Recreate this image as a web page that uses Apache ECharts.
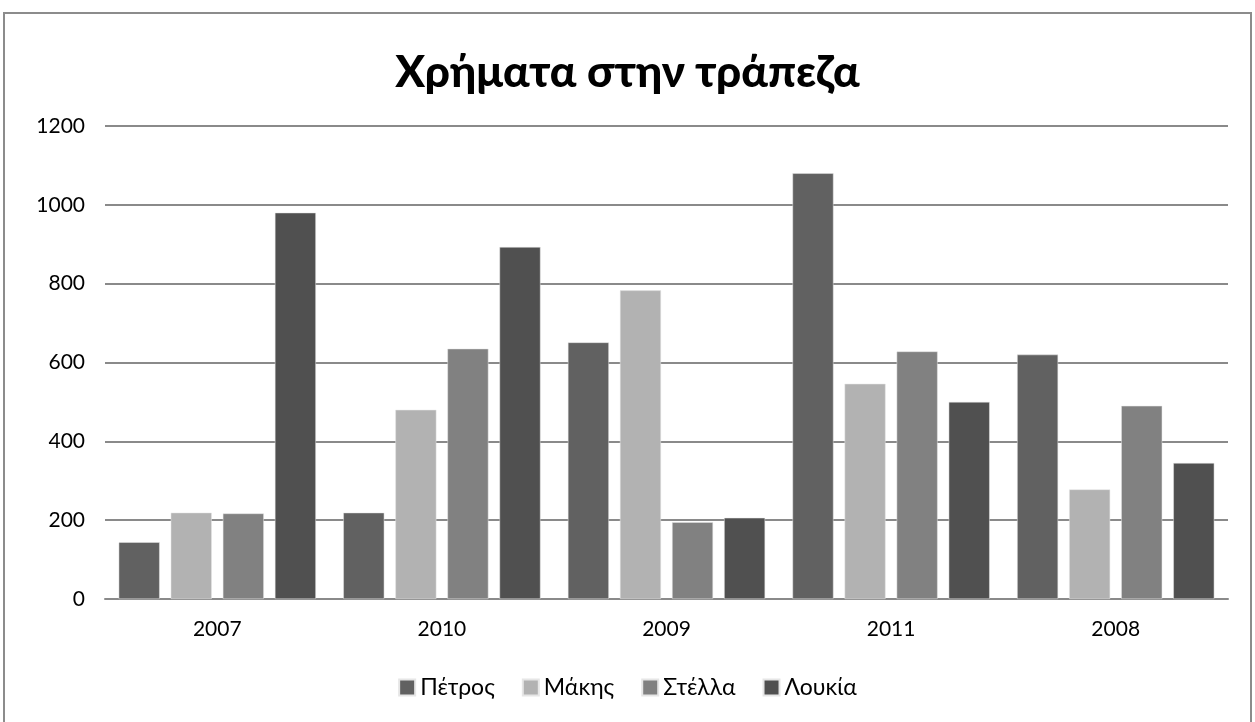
<!DOCTYPE html>
<html><head><meta charset="utf-8">
<script src="https://cdn.jsdelivr.net/npm/echarts@6/dist/echarts.min.js"></script>
<style>html,body{margin:0;padding:0;background:#fff}#c{width:1255px;height:722px}</style>
</head><body><div id="c"></div>
<script>
const categories = ['2007', '2010', '2009', '2011', '2008'];
const seriesNames = ['Πέτρος', 'Μάκης', 'Στέλλα', 'Λουκία'];
const petros = [144, 219, 651, 1080, 620];
const makis = [219, 480, 783, 546, 278];
const stella = [217, 635, 195, 628, 490];
const loukia = [980, 893, 206, 500, 345];
const yTicks = [0, 200, 400, 600, 800, 1000, 1200];
const colors = ['#616161', '#b2b2b2', '#818181', '#505050'];
const FONT = 'Lato, "Noto Sans", sans-serif';
const values = [petros, makis, stella, loukia];

const chart = echarts.init(document.getElementById('c'));
chart.setOption({
  animation: false,
  title: {
    text: 'Χρήματα στην τράπεζα', left: 'center', top: 46,
    textStyle: { fontFamily: FONT, fontSize: 44, fontWeight: 900, color: '#000' }
  },
  graphic: [{
    type: 'rect', silent: true,
    shape: { x: 4, y: 13, width: 1247, height: 720 },
    style: { fill: 'none', stroke: '#8c8c8c', lineWidth: 2 }
  }],
  legend: {
    bottom: 18, left: 'center', itemWidth: 16, itemHeight: 16, itemGap: 27,
    icon: 'rect',
    textStyle: { fontFamily: FONT, fontSize: 23, color: '#000' },
    data: seriesNames
  },
  grid: { left: 105, right: 27, top: 126, bottom: 123 },
  xAxis: {
    type: 'category', data: categories,
    axisLine: { lineStyle: { color: '#8a8a8a', width: 2 } },
    axisTick: { show: false },
    axisLabel: { fontFamily: FONT, fontSize: 21, color: '#000', margin: 20 }
  },
  yAxis: {
    type: 'value', min: yTicks[0], max: yTicks[yTicks.length - 1], interval: 200,
    axisLine: { show: false }, axisTick: { show: false },
    splitLine: { lineStyle: { color: '#8a8a8a', width: 2 } },
    axisLabel: { fontFamily: FONT, fontSize: 21, color: '#000', margin: 20,
      formatter: v => String(v) }
  },
  series: seriesNames.map((n, i) => ({
    name: n, type: 'bar', data: values[i],
    barWidth: 41, barGap: '27%',
    itemStyle: { color: colors[i], borderColor: '#e6e6e6', borderWidth: 0.5 }
  }))
});
</script></body></html>
